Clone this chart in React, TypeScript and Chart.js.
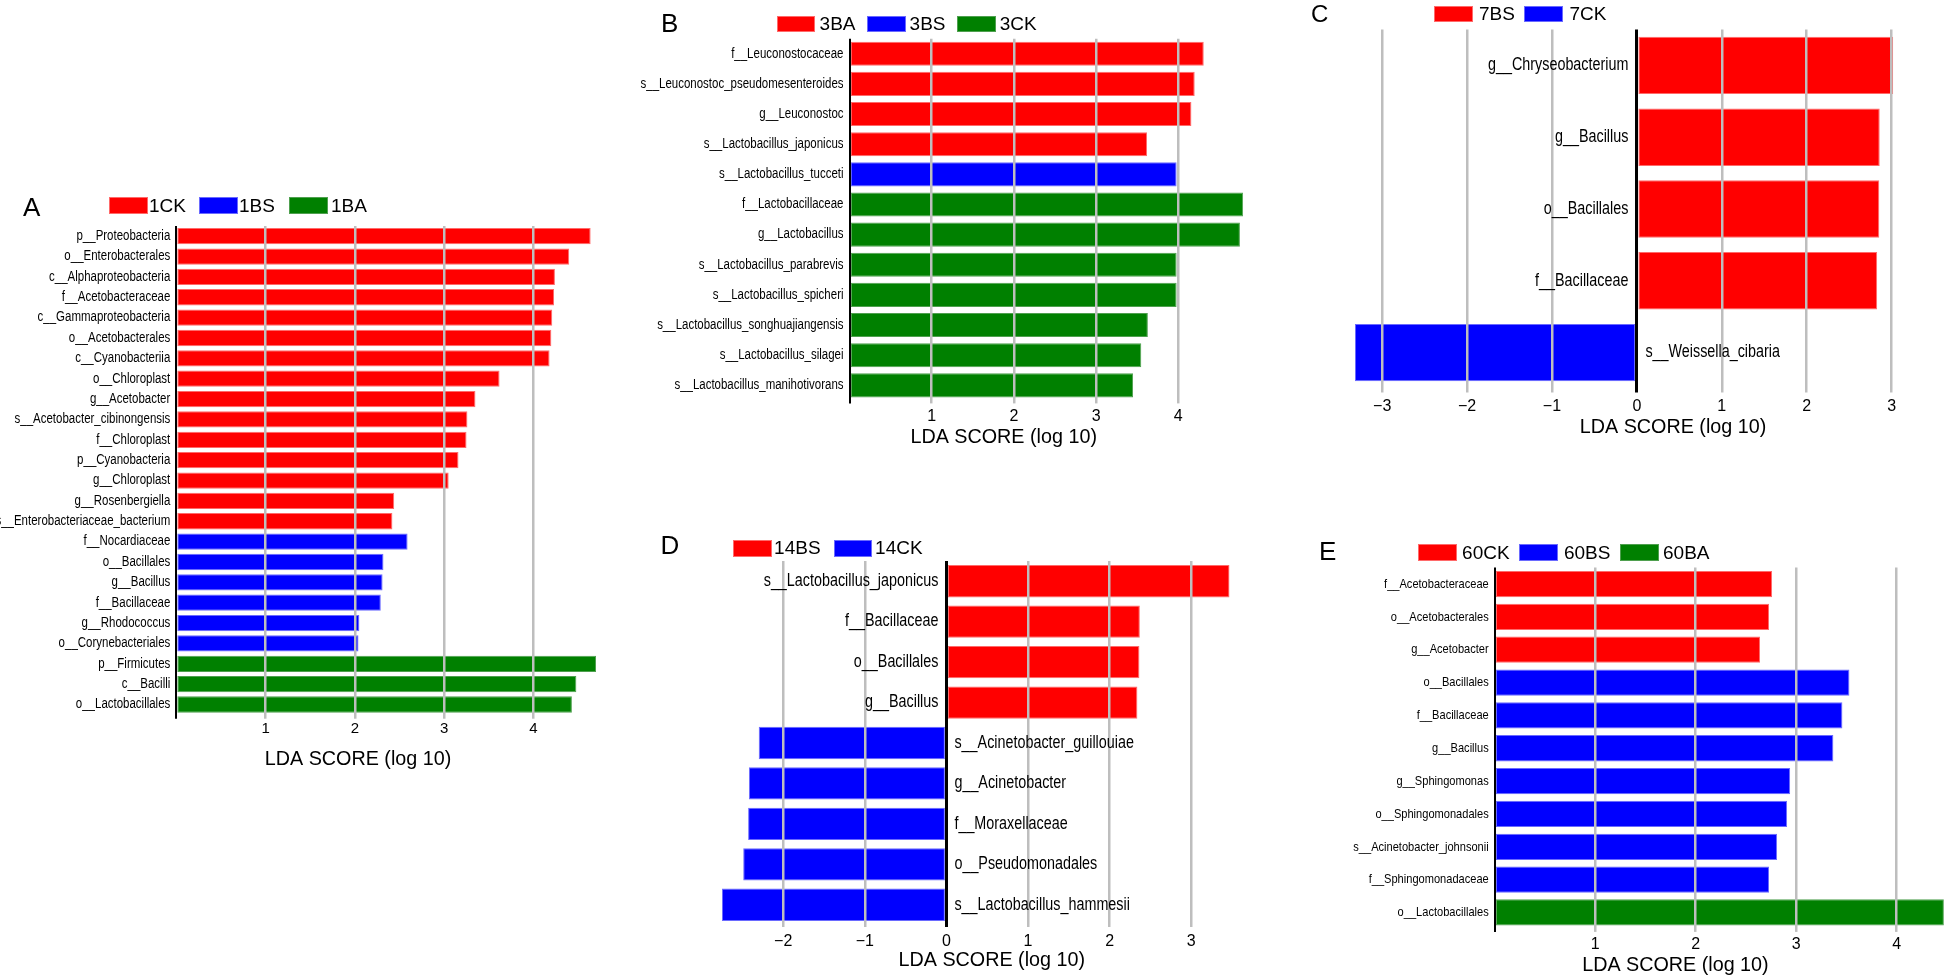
import React, { useEffect, useRef } from 'react';
import { Chart, registerables } from 'chart.js';

Chart.register(...registerables);

// ---------------- Data ----------------
const A_CATEGORIES = [
  'p__Proteobacteria', 'o__Enterobacterales', 'c__Alphaproteobacteria', 'f__Acetobacteraceae',
  'c__Gammaproteobacteria', 'o__Acetobacterales', 'c__Cyanobacteriia', 'o__Chloroplast',
  'g__Acetobacter', 's__Acetobacter_cibinongensis', 'f__Chloroplast', 'p__Cyanobacteria',
  'g__Chloroplast', 'g__Rosenbergiella', 's__Enterobacteriaceae_bacterium', 'f__Nocardiaceae',
  'o__Bacillales', 'g__Bacillus', 'f__Bacillaceae', 'g__Rhodococcus', 'o__Corynebacteriales',
  'p__Firmicutes', 'c__Bacilli', 'o__Lactobacillales',
];
const A_VALUES = [4.64, 4.4, 4.24, 4.23, 4.21, 4.2, 4.18, 3.62, 3.35, 3.26, 3.25, 3.16, 3.05, 2.44, 2.42, 2.59, 2.32, 2.31, 2.29, 2.05, 2.04, 4.7, 4.48, 4.43];
const A_GROUPS = [
  '1CK', '1CK', '1CK', '1CK', '1CK', '1CK', '1CK', '1CK', '1CK', '1CK', '1CK', '1CK', '1CK', '1CK', '1CK',
  '1BS', '1BS', '1BS', '1BS', '1BS', '1BS',
  '1BA', '1BA', '1BA',
];
const A_LEGEND = ['1CK', '1BS', '1BA'];

const B_CATEGORIES = [
  'f__Leuconostocaceae', 's__Leuconostoc_pseudomesenteroides', 'g__Leuconostoc', 's__Lactobacillus_japonicus',
  's__Lactobacillus_tucceti', 'f__Lactobacillaceae', 'g__Lactobacillus', 's__Lactobacillus_parabrevis',
  's__Lactobacillus_spicheri', 's__Lactobacillus_songhuajiangensis', 's__Lactobacillus_silagei',
  's__Lactobacillus_manihotivorans',
];
const B_VALUES = [4.31, 4.2, 4.16, 3.62, 3.98, 4.79, 4.75, 3.98, 3.98, 3.63, 3.55, 3.45];
const B_GROUPS = ['3BA', '3BA', '3BA', '3BA', '3BS', '3CK', '3CK', '3CK', '3CK', '3CK', '3CK', '3CK'];
const B_LEGEND = ['3BA', '3BS', '3CK'];

const C_CATEGORIES = ['g__Chryseobacterium', 'g__Bacillus', 'o__Bacillales', 'f__Bacillaceae', 's__Weissella_cibaria'];
const C_VALUES = [3.02, 2.86, 2.855, 2.83, -3.32];
const C_GROUPS = ['7BS', '7BS', '7BS', '7BS', '7CK'];
const C_LEGEND = ['7BS', '7CK'];

const D_CATEGORIES = [
  's__Lactobacillus_japonicus', 'f__Bacillaceae', 'o__Bacillales', 'g__Bacillus',
  's__Acinetobacter_guillouiae', 'g__Acinetobacter', 'f__Moraxellaceae', 'o__Pseudomonadales',
  's__Lactobacillus_hammesii',
];
const D_VALUES = [3.47, 2.37, 2.365, 2.34, -2.3, -2.42, -2.43, -2.49, -2.75];
const D_GROUPS = ['14BS', '14BS', '14BS', '14BS', '14CK', '14CK', '14CK', '14CK', '14CK'];
const D_LEGEND = ['14BS', '14CK'];

const E_CATEGORIES = [
  'f__Acetobacteraceae', 'o__Acetobacterales', 'g__Acetobacter', 'o__Bacillales', 'f__Bacillaceae',
  'g__Bacillus', 'g__Sphingomonas', 'o__Sphingomonadales', 's__Acinetobacter_johnsonii',
  'f__Sphingomonadaceae', 'o__Lactobacillales',
];
const E_VALUES = [2.76, 2.73, 2.64, 3.53, 3.46, 3.37, 2.94, 2.91, 2.81, 2.73, 4.47];
const E_GROUPS = ['60CK', '60CK', '60CK', '60BS', '60BS', '60BS', '60BS', '60BS', '60BS', '60BS', '60BA'];
const E_LEGEND = ['60CK', '60BS', '60BA'];

const AXIS_TITLE = 'LDA SCORE (log 10)';

// ---------------- Styles ----------------
const FILL = ['#FF0000', '#0000FF', '#008000'];
const EDGE = ['#FF6A6A', '#6A6AFF', '#4FA04F'];
const GRID = '#BEBEBE';
const FONT = '"Liberation Sans", Arial, sans-serif';
const SCALE_H = 32;

function fontExists(name: string): boolean {
  try {
    const c = document.createElement('canvas').getContext('2d')!;
    const probe = 'abcdefghijklmnopqrstuvwxyz_WM0123';
    c.font = '40px monospace';
    const w1 = c.measureText(probe).width;
    c.font = `40px "${name}", monospace`;
    const w2 = c.measureText(probe).width;
    return Math.abs(w1 - w2) > 0.5;
  } catch (e) {
    return false;
  }
}
const HAS_NARROW = typeof document !== 'undefined' && fontExists('Liberation Sans Narrow');

type Layout = {
  letter: string;
  box: { x: number; y: number; w: number; h: number };
  area: { l: number; t: number; r: number; b: number };
  tickLen: number;
  tickCY: number;
  tickSize: number;
  showZero: boolean;
  axisWidth: number;
  title: { x: number; y: number };
  labelSize: number;
  labelGap: number;
  letterPos: { x: number; capTop: number; size: number };
  legend: { cy: number; w: number; h: number; boxX: number[]; textX: number[] };
};

const LAYOUT_A: Layout = {
  letter: 'A',
  box: { x: 0, y: 185, w: 605, h: 610 },
  area: { l: 176.3, t: 226, r: 596, b: 714.7 },
  tickLen: 4, tickCY: 728.5, tickSize: 15, showZero: false, axisWidth: 2,
  title: { x: 358, y: 759.5 },
  labelSize: 14, labelGap: 6,
  letterPos: { x: 23, capTop: 197, size: 26 },
  legend: { cy: 205.7, w: 39, h: 17, boxX: [109, 198.6, 289], textX: [149, 239, 331] },
};
const LAYOUT_B: Layout = {
  letter: 'B',
  box: { x: 600, y: 0, w: 660, h: 460 },
  area: { l: 849.5, t: 38.7, r: 1243.2, b: 400.4 },
  tickLen: 3, tickCY: 416, tickSize: 16, showZero: false, axisWidth: 2,
  title: { x: 1003.7, y: 437 },
  labelSize: 14, labelGap: 6,
  letterPos: { x: 661, capTop: 13, size: 26 },
  legend: { cy: 24, w: 38.7, h: 16, boxX: [776.8, 866.9, 957], textX: [819.6, 909.6, 999.7] },
};
const LAYOUT_C: Layout = {
  letter: 'C',
  box: { x: 1270, y: 0, w: 676, h: 455 },
  area: { l: 1355, t: 29.5, r: 1893.3, b: 388.5 },
  tickLen: 4, tickCY: 406, tickSize: 16, showZero: true, axisWidth: 3,
  title: { x: 1673, y: 427 },
  labelSize: 17.5, labelGap: 8.5,
  letterPos: { x: 1311, capTop: 5, size: 24 },
  legend: { cy: 14.2, w: 38.8, h: 16.3, boxX: [1433.8, 1524.4], textX: [1479, 1569.5] },
};
const LAYOUT_D: Layout = {
  letter: 'D',
  box: { x: 600, y: 490, w: 660, h: 487 },
  area: { l: 722, t: 561, r: 1229.6, b: 925 },
  tickLen: 2, tickCY: 940.5, tickSize: 16, showZero: true, axisWidth: 3,
  title: { x: 991.8, y: 960 },
  labelSize: 17.5, labelGap: 8,
  letterPos: { x: 660.5, capTop: 535, size: 26 },
  legend: { cy: 548.3, w: 38.7, h: 16.7, boxX: [733, 833.6], textX: [774.1, 875.1] },
};
const LAYOUT_E: Layout = {
  letter: 'E',
  box: { x: 1270, y: 490, w: 676, h: 487 },
  area: { l: 1494.7, t: 567.6, r: 1943.9, b: 928.9 },
  tickLen: 3, tickCY: 944, tickSize: 16, showZero: false, axisWidth: 2,
  title: { x: 1675.4, y: 965 },
  labelSize: 13.5, labelGap: 6,
  letterPos: { x: 1319, capTop: 541.7, size: 26 },
  legend: { cy: 552.5, w: 39, h: 16.4, boxX: [1417.9, 1519.2, 1619.6], textX: [1462.1, 1563.9, 1663] },
};

type PanelProps = {
  layout: Layout;
  categories: string[];
  values: number[];
  groups: string[];
  legend: string[];
};

function Panel({ layout, categories, values, groups, legend }: PanelProps) {
  const ref = useRef<HTMLCanvasElement>(null);

  useEffect(() => {
    const { box, area } = layout;
    const canvas = ref.current;
    if (!canvas) return;

    const datasets = legend.map((g, k) => ({
      label: g,
      data: values.map((v, i) => (groups[i] === g ? v : null)),
      backgroundColor: FILL[k],
      borderColor: EDGE[k],
      borderWidth: 1,
      borderSkipped: false as const,
      grouped: false,
      barPercentage: 0.8,
      categoryPercentage: 1,
    }));

    const xMin = Math.min(0, ...values);
    const xMax = Math.max(...values);

    const labelPlugin = {
      id: 'catLabels' + layout.letter,
      afterDraw(chart: any) {
        const ctx = chart.ctx as CanvasRenderingContext2D;
        const xs = chart.scales.x;
        const ys = chart.scales.y;
        const x0 = xs.getPixelForValue(0);
        ctx.save();
        ctx.fillStyle = '#000';
        ctx.textBaseline = 'middle';
        categories.forEach((lab, i) => {
          const y = ys.getPixelForValue(i);
          const pos = values[i] >= 0;
          const x = pos ? x0 - layout.labelGap : x0 + layout.labelGap;
          ctx.save();
          ctx.translate(x, y);
          if (HAS_NARROW) {
            ctx.font = `${layout.labelSize}px "Liberation Sans Narrow"`;
          } else {
            ctx.font = `${layout.labelSize}px ${FONT}`;
            ctx.scale(0.82, 1);
          }
          ctx.textAlign = pos ? 'right' : 'left';
          ctx.fillText(lab, 0, 0);
          ctx.restore();
        });
        ctx.save();
        ctx.translate(layout.title.x - box.x, layout.title.y - box.y);
        ctx.scale(0.94, 1);
        ctx.font = `21px ${FONT}`;
        ctx.textAlign = 'center';
        ctx.textBaseline = 'middle';
        ctx.fillText(AXIS_TITLE, 0, 0);
        ctx.restore();
        ctx.restore();
      },
    };

    const chart = new Chart(canvas, {
      type: 'bar',
      data: { labels: categories, datasets: datasets as any },
      options: {
        indexAxis: 'y',
        responsive: false,
        animation: false,
        events: [],
        layout: {
          padding: {
            left: area.l - box.x,
            top: area.t - box.y,
            right: box.x + box.w - area.r,
            bottom: box.y + box.h - area.b - SCALE_H,
          },
        },
        plugins: {
          legend: { display: false },
          tooltip: { enabled: false },
          title: { display: false },
        },
        scales: {
          y: { display: false, offset: true, grid: { display: false } },
          x: {
            type: 'linear',
            position: 'bottom',
            min: xMin,
            max: xMax,
            border: { display: false },
            grid: {
              z: 1,
              drawTicks: true,
              tickLength: layout.tickLen,
              color: (c: any) => (c.tick && c.tick.value === 0 ? '#000000' : GRID),
              lineWidth: (c: any) => (c.tick && c.tick.value === 0 ? layout.axisWidth : 2.5),
            },
            ticks: {
              stepSize: 1,
              includeBounds: false,
              autoSkip: false,
              maxRotation: 0,
              color: '#000',
              padding: Math.max(0, layout.tickCY - 9 - area.b - layout.tickLen),
              font: { family: FONT, size: layout.tickSize },
              callback: (v: any) => {
                const n = Number(v);
                if (n === 0 && !layout.showZero) return '';
                return String(n).replace('-', '\u2212');
              },
            },
            afterFit: (s: any) => {
              s.height = SCALE_H;
            },
          },
        },
      } as any,
      plugins: [labelPlugin],
    });
    return () => chart.destroy();
  }, []);

  const { box, legend: lg, letterPos } = layout;
  return (
    <>
      <canvas
        ref={ref}
        width={box.w}
        height={box.h}
        style={{ position: 'absolute', left: box.x, top: box.y, width: box.w, height: box.h, display: 'block' }}
      />
      <div
        style={{
          position: 'absolute',
          left: letterPos.x,
          top: letterPos.capTop - 0.1305 * letterPos.size,
          fontSize: letterPos.size,
          lineHeight: 1,
          fontFamily: FONT,
          color: '#000',
          whiteSpace: 'nowrap',
        }}
      >
        {layout.letter}
      </div>
      {legend.map((g, k) => (
        <React.Fragment key={g}>
          <div
            style={{
              position: 'absolute',
              left: lg.boxX[k],
              top: lg.cy - lg.h / 2,
              width: lg.w,
              height: lg.h,
              background: FILL[k],
              boxSizing: 'border-box',
              border: `1px solid ${EDGE[k]}`,
            }}
          />
          <div
            style={{
              position: 'absolute',
              left: lg.textX[k],
              top: lg.cy - 12,
              height: 24,
              lineHeight: '24px',
              fontSize: 19,
              fontFamily: FONT,
              color: '#000',
              whiteSpace: 'nowrap',
            }}
          >
            {g}
          </div>
        </React.Fragment>
      ))}
    </>
  );
}

export default function App() {
  return (
    <div
      style={{
        position: 'absolute',
        left: 0,
        top: 0,
        width: 1946,
        height: 977,
        background: '#ffffff',
        overflow: 'hidden',
      }}
    >
      <Panel layout={LAYOUT_A} categories={A_CATEGORIES} values={A_VALUES} groups={A_GROUPS} legend={A_LEGEND} />
      <Panel layout={LAYOUT_B} categories={B_CATEGORIES} values={B_VALUES} groups={B_GROUPS} legend={B_LEGEND} />
      <Panel layout={LAYOUT_C} categories={C_CATEGORIES} values={C_VALUES} groups={C_GROUPS} legend={C_LEGEND} />
      <Panel layout={LAYOUT_D} categories={D_CATEGORIES} values={D_VALUES} groups={D_GROUPS} legend={D_LEGEND} />
      <Panel layout={LAYOUT_E} categories={E_CATEGORIES} values={E_VALUES} groups={E_GROUPS} legend={E_LEGEND} />
    </div>
  );
}
